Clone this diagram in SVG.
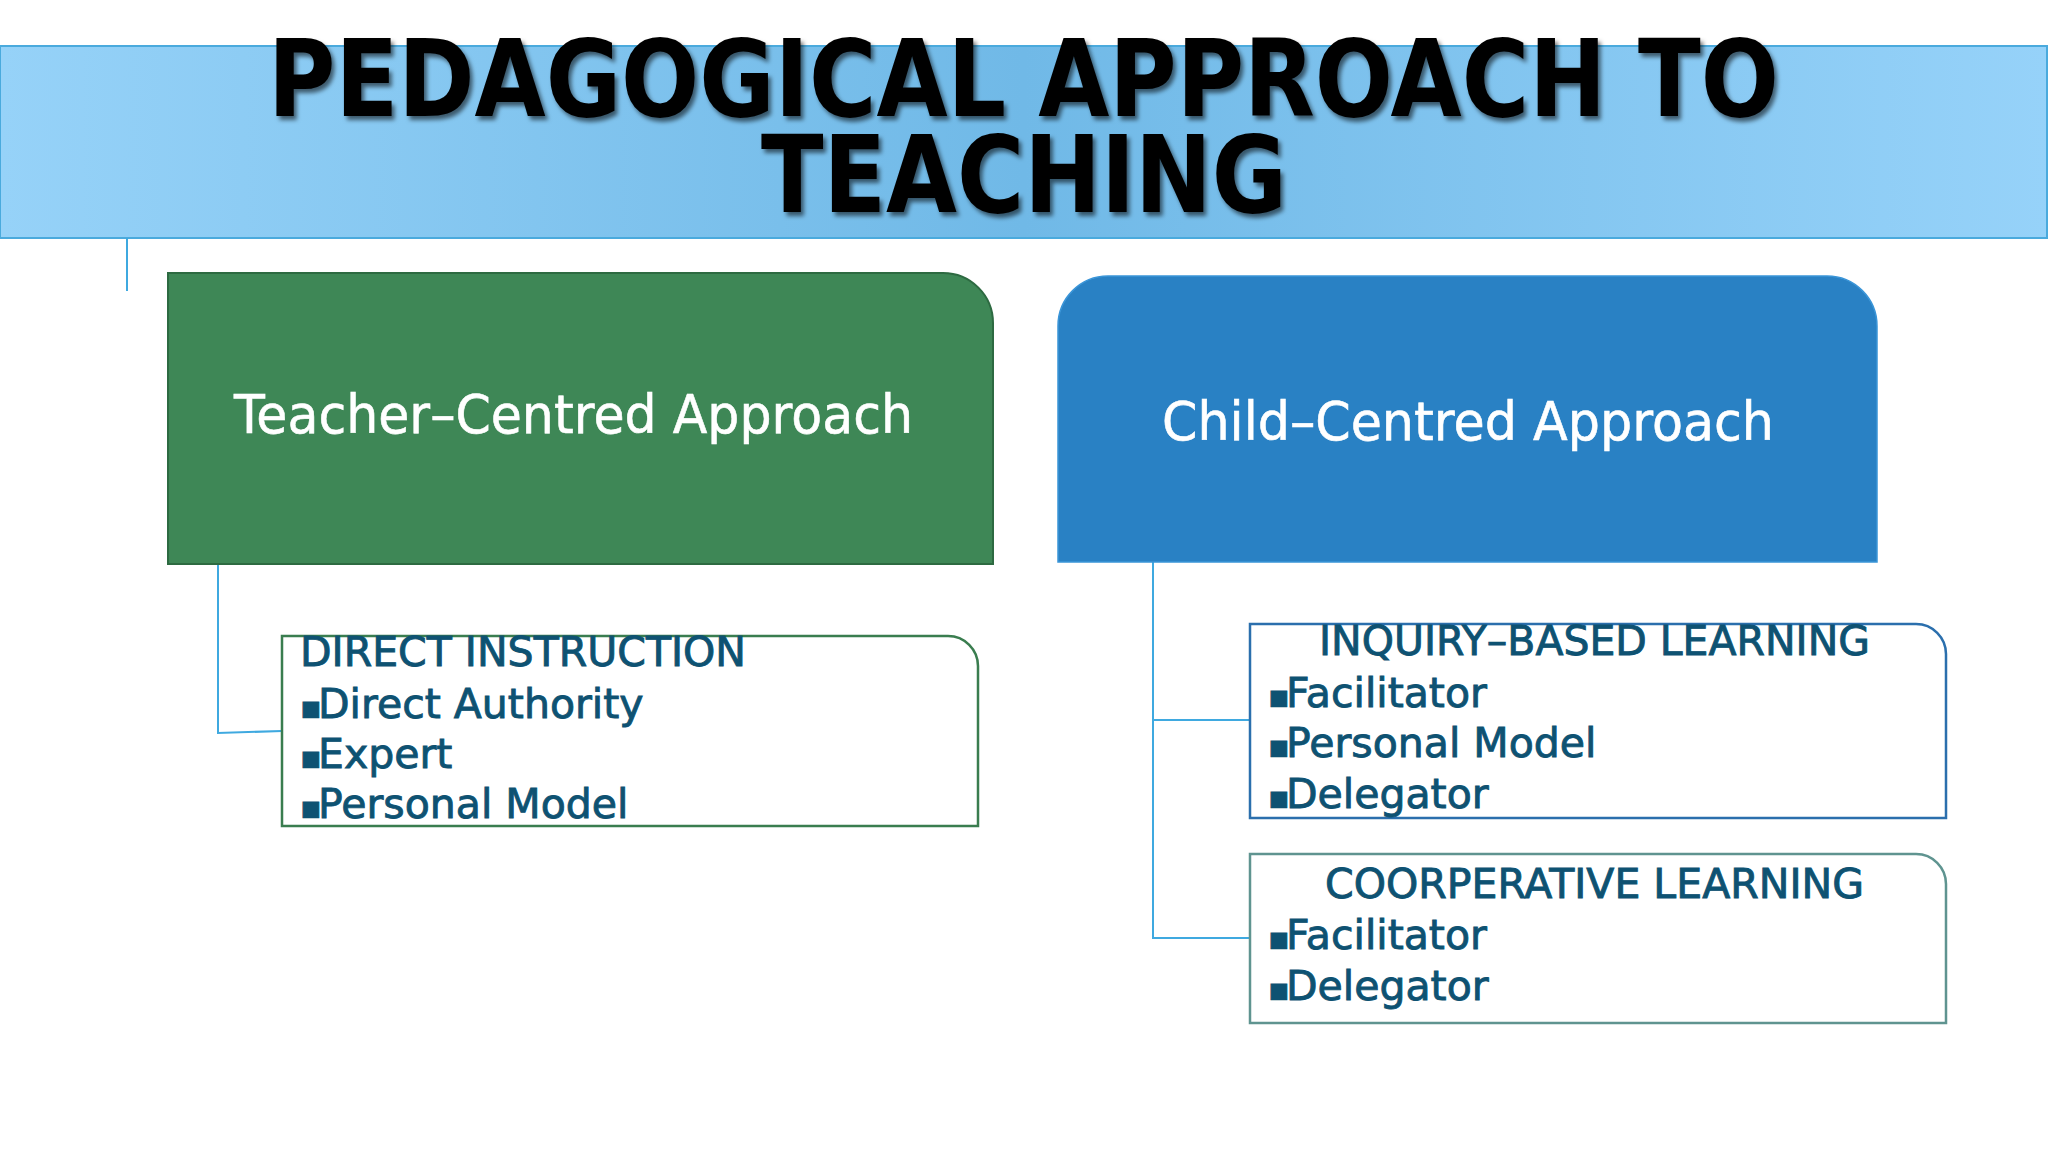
<svg xmlns="http://www.w3.org/2000/svg" width="2048" height="1152" viewBox="0 0 2048 1152">
  <defs>
    <linearGradient id="bandGrad" x1="0" y1="0" x2="1" y2="0">
      <stop offset="0" stop-color="#96d2f8"/>
      <stop offset="0.5" stop-color="#70b9e7"/>
      <stop offset="1" stop-color="#96d2f9"/>
    </linearGradient>
    <filter id="shadow" x="-5%" y="-20%" width="110%" height="140%">
      <feDropShadow dx="3" dy="4" stdDeviation="2" flood-color="#000" flood-opacity="0.55"/>
    </filter>
  </defs>
  <style>
    .title { font-family: "DejaVu Sans", Verdana, sans-serif; font-weight: bold; font-size: 107px; fill: #000; }
    .main { font-family: "DejaVu Sans", Verdana, sans-serif; font-size: 54px; fill: #ffffff; stroke: #ffffff; stroke-width: 0.6; }
    .head { font-family: "DejaVu Sans", Verdana, sans-serif; font-size: 40px; fill: #0e5272; stroke: #0e5272; stroke-width: 0.9; }
    .item { font-family: "DejaVu Sans", Verdana, sans-serif; font-size: 41px; fill: #0e5272; stroke: #0e5272; stroke-width: 0.9; }
    .bul { font-size: 32px; }
    .conn { fill: none; stroke: #3fa9e0; stroke-width: 2; }
  </style>
  <rect x="0" y="0" width="2048" height="1152" fill="#ffffff"/>

  <g id="title">
    <rect x="0" y="46" width="2047" height="192" fill="url(#bandGrad)" stroke="#4aaadd" stroke-width="2"/>
    <g filter="url(#shadow)">
      <text class="title" x="268" y="116" textLength="1511" lengthAdjust="spacingAndGlyphs">PEDAGOGICAL APPROACH TO</text>
      <text class="title" x="761" y="212" textLength="526" lengthAdjust="spacingAndGlyphs">TEACHING</text>
    </g>
  </g>

  <g id="connectors">
    <line class="conn" x1="127" y1="238" x2="127" y2="291"/>
    <polyline class="conn" points="218,564 218,733 282,731"/>
    <polyline class="conn" points="1153,562 1153,938 1250,938"/>
    <line class="conn" x1="1153" y1="720" x2="1250" y2="720"/>
  </g>

  <g id="teacher-centred">
    <path d="M168,273 H943 A50,50 0 0 1 993,323 V564 H168 Z" fill="#3e8756" stroke="#2d6a41" stroke-width="2"/>
    <text class="main" x="234" y="433" textLength="679" lengthAdjust="spacingAndGlyphs">Teacher–Centred Approach</text>
  </g>

  <g id="child-centred">
    <path d="M1058,562 V326 A50,50 0 0 1 1108,276 H1827 A50,50 0 0 1 1877,326 V562 Z" fill="#2981c4" stroke="#3a95d8" stroke-width="1.5"/>
    <text class="main" x="1162" y="440" textLength="612" lengthAdjust="spacingAndGlyphs">Child–Centred Approach</text>
  </g>

  <g id="direct-instruction">
    <path d="M282,636 H948 A30,30 0 0 1 978,666 V826 H282 Z" fill="#ffffff" stroke="#3a7d4f" stroke-width="2.5"/>
    <text class="head" x="300" y="666" textLength="446" lengthAdjust="spacingAndGlyphs">DIRECT INSTRUCTION</text>
    <text class="item" y="718"><tspan class="bul" x="300">▪</tspan><tspan x="318">Direct Authority</tspan></text>
    <text class="item" y="768"><tspan class="bul" x="300">▪</tspan><tspan x="318">Expert</tspan></text>
    <text class="item" y="818"><tspan class="bul" x="300">▪</tspan><tspan x="318">Personal Model</tspan></text>
  </g>

  <g id="inquiry-based">
    <path d="M1250,624 H1916 A30,30 0 0 1 1946,654 V818 H1250 Z" fill="#ffffff" stroke="#2b6fad" stroke-width="2.5"/>
    <text class="head" x="1319" y="655" textLength="551" lengthAdjust="spacingAndGlyphs">INQUIRY–BASED LEARNING</text>
    <text class="item" y="707"><tspan class="bul" x="1268">▪</tspan><tspan x="1286">Facilitator</tspan></text>
    <text class="item" y="757"><tspan class="bul" x="1268">▪</tspan><tspan x="1286">Personal Model</tspan></text>
    <text class="item" y="808"><tspan class="bul" x="1268">▪</tspan><tspan x="1286">Delegator</tspan></text>
  </g>

  <g id="cooperative">
    <path d="M1250,854 H1916 A30,30 0 0 1 1946,884 V1023 H1250 Z" fill="#ffffff" stroke="#5f9490" stroke-width="2.5"/>
    <text class="head" x="1325" y="898" textLength="539" lengthAdjust="spacingAndGlyphs">COORPERATIVE LEARNING</text>
    <text class="item" y="949"><tspan class="bul" x="1268">▪</tspan><tspan x="1286">Facilitator</tspan></text>
    <text class="item" y="1000"><tspan class="bul" x="1268">▪</tspan><tspan x="1286">Delegator</tspan></text>
  </g>
</svg>
